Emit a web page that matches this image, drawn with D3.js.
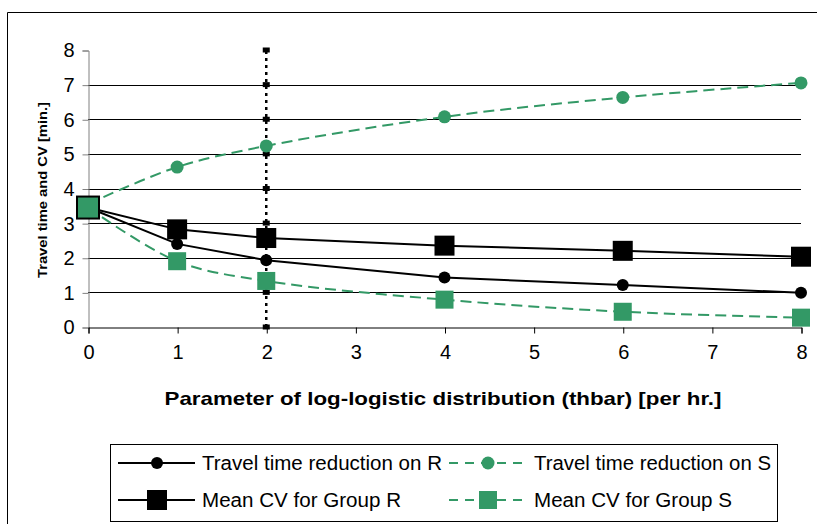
<!DOCTYPE html>
<html>
<head>
<meta charset="utf-8">
<script src="https://cdn.jsdelivr.net/npm/d3@7"></script>
<style>
  body { margin: 0; background: #fff; }
  text { font-family: 'Liberation Sans', Arial, sans-serif; }
</style>
</head>
<body>
<div id="chart"></div>
<script>
// thbar values on the x axis
const thbar = [0, 1, 2, 4, 6, 8];
const xTicks = [0, 1, 2, 3, 4, 5, 6, 7, 8];
const yTicks = [0, 1, 2, 3, 4, 5, 6, 7, 8];

// series
const reductionR = [3.45, 2.4, 1.93, 1.43, 1.21, 0.99];
const reductionS = [3.55, 4.62, 5.23, 6.07, 6.63, 7.05];
const cvGroupR = [3.45, 2.82, 2.57, 2.35, 2.2, 2.03];
const cvGroupS = [3.45, 1.9, 1.33, 0.79, 0.44, 0.27];

// dotted marker line at thbar = 2
const markerX = 2;
const markerY = [0, 1, 2, 3, 4, 5, 6, 7, 8];

const legendLabels = [
  'Travel time reduction on R',
  'Travel time reduction on S',
  'Mean CV for Group R',
  'Mean CV for Group S'
];

const width = 817;
const height = 524;
const green = '#339966';

const svg = d3.select('#chart')
  .append('svg')
  .attr('width', width)
  .attr('height', height);

// outer frame
svg.append('path')
  .attr('d', 'M7.5,524 V12.5 H817')
  .attr('fill', 'none')
  .attr('stroke', '#000')
  .attr('stroke-width', 1);

const x = d3.scaleLinear().domain([0, 8]).range([88, 801]);
const y = d3.scaleLinear().domain([0, 8]).range([327, 50]);

// grid lines
svg.append('g')
  .selectAll('line')
  .data(yTicks.filter(d => d > 0 && d < 8))
  .enter().append('line')
  .attr('x1', x(0))
  .attr('x2', x(8))
  .attr('y1', d => Math.round(y(d)) + 0.5)
  .attr('y2', d => Math.round(y(d)) + 0.5)
  .attr('stroke', '#000')
  .attr('stroke-width', 1);

// y axis
const yAxis = svg.append('g')
  .attr('transform', `translate(${x(0) + 0.5},0.5)`)
  .call(d3.axisLeft(y).tickValues(yTicks).tickSize(6).tickPadding(8));
yAxis.select('.domain').attr('stroke', '#808080');
yAxis.selectAll('.tick line').attr('stroke', '#808080');
yAxis.selectAll('text').attr('font-size', 20).attr('fill', '#000');

// x axis
const xAxis = svg.append('g')
  .attr('transform', `translate(0.5,${y(0) + 0.5})`)
  .call(d3.axisBottom(x).tickValues(xTicks).tickSize(6).tickPadding(11));
xAxis.select('.domain').attr('stroke', '#000');
xAxis.selectAll('text').attr('font-size', 20).attr('fill', '#000');

// axis titles
svg.append('text')
  .attr('x', 443)
  .attr('y', 405)
  .attr('text-anchor', 'middle')
  .attr('font-size', 19)
  .attr('font-weight', 'bold')
  .attr('textLength', 557)
  .attr('lengthAdjust', 'spacingAndGlyphs')
  .text('Parameter of log-logistic distribution (thbar) [per hr.]');

svg.append('text')
  .attr('transform', 'translate(47,190) rotate(-90)')
  .attr('text-anchor', 'middle')
  .attr('font-size', 13.5)
  .attr('font-weight', 'bold')
  .attr('textLength', 176)
  .attr('lengthAdjust', 'spacingAndGlyphs')
  .text('Travel time and CV [min.]');

// dotted vertical marker
svg.append('line')
  .attr('x1', x(markerX))
  .attr('x2', x(markerX))
  .attr('y1', y(0))
  .attr('y2', y(8))
  .attr('stroke', '#000')
  .attr('stroke-width', 2.5)
  .attr('stroke-dasharray', '3,4');
svg.append('g')
  .selectAll('rect')
  .data(markerY)
  .enter().append('rect')
  .attr('x', x(markerX) - 3.5)
  .attr('y', d => y(d) - 2.5)
  .attr('width', 7)
  .attr('height', 5)
  .attr('fill', '#000');

const series = [
  { values: reductionR, color: '#000', dash: null, shape: 'circle', size: 6, curve: d3.curveLinear },
  { values: reductionS, color: green, dash: '11,6', shape: 'circle', size: 6.5, curve: d3.curveCatmullRom },
  { values: cvGroupR, color: '#000', dash: null, shape: 'square', size: 20, curve: d3.curveLinear },
  { values: cvGroupS, color: green, dash: '11,6', shape: 'square', size: 18, curve: d3.curveCatmullRom }
];

const line = d3.line();

series.forEach(s => {
  svg.append('path')
    .datum(s.values.map((v, i) => [thbar[i], v]))
    .attr('d', line.curve(s.curve).x(d => x(d[0])).y(d => y(d[1])))
    .attr('fill', 'none')
    .attr('stroke', s.color)
    .attr('stroke-width', 2)
    .attr('stroke-dasharray', s.dash);
});

function drawMarker(g, s, cx, cy) {
  if (s.shape === 'circle') {
    g.append('circle')
      .attr('cx', cx)
      .attr('cy', cy)
      .attr('r', s.size)
      .attr('fill', s.color);
  } else {
    g.append('rect')
      .attr('x', cx - s.size / 2)
      .attr('y', cy - s.size / 2)
      .attr('width', s.size)
      .attr('height', s.size)
      .attr('fill', s.color);
  }
}

series.forEach(s => {
  const g = svg.append('g');
  s.values.forEach((v, i) => {
    if (i === 0) return;
    drawMarker(g, s, x(thbar[i]), y(v));
  });
});

// the shared start point: last series drawn on top with a dark outline
svg.append('rect')
  .attr('x', x(thbar[0]) - 11)
  .attr('y', y(cvGroupS[0]) - 11)
  .attr('width', 22)
  .attr('height', 22)
  .attr('fill', green)
  .attr('stroke', '#000')
  .attr('stroke-width', 2);

// legend
svg.append('rect')
  .attr('x', 110.5)
  .attr('y', 444.5)
  .attr('width', 667)
  .attr('height', 77)
  .attr('fill', '#fff')
  .attr('stroke', '#000')
  .attr('stroke-width', 1);

const legendPos = [
  { lx: 118, tx: 202, ty: 463, tw: 240 },
  { lx: 449, tx: 534, ty: 463, tw: 237 },
  { lx: 118, tx: 202, ty: 500, tw: 199 },
  { lx: 449, tx: 534, ty: 500, tw: 198 }
];

series.forEach((s, i) => {
  const p = legendPos[i];
  const g = svg.append('g');
  g.append('line')
    .attr('x1', p.lx)
    .attr('x2', p.lx + 77)
    .attr('y1', p.ty)
    .attr('y2', p.ty)
    .attr('stroke', s.color)
    .attr('stroke-width', 2)
    .attr('stroke-dasharray', s.dash ? '9,7' : null);
  drawMarker(g, s, p.lx + 39, p.ty);
  g.append('text')
    .attr('x', p.tx)
    .attr('y', p.ty + 7)
    .attr('font-size', 20)
    .attr('textLength', p.tw)
    .attr('lengthAdjust', 'spacingAndGlyphs')
    .text(legendLabels[i]);
});
</script>
</body>
</html>
